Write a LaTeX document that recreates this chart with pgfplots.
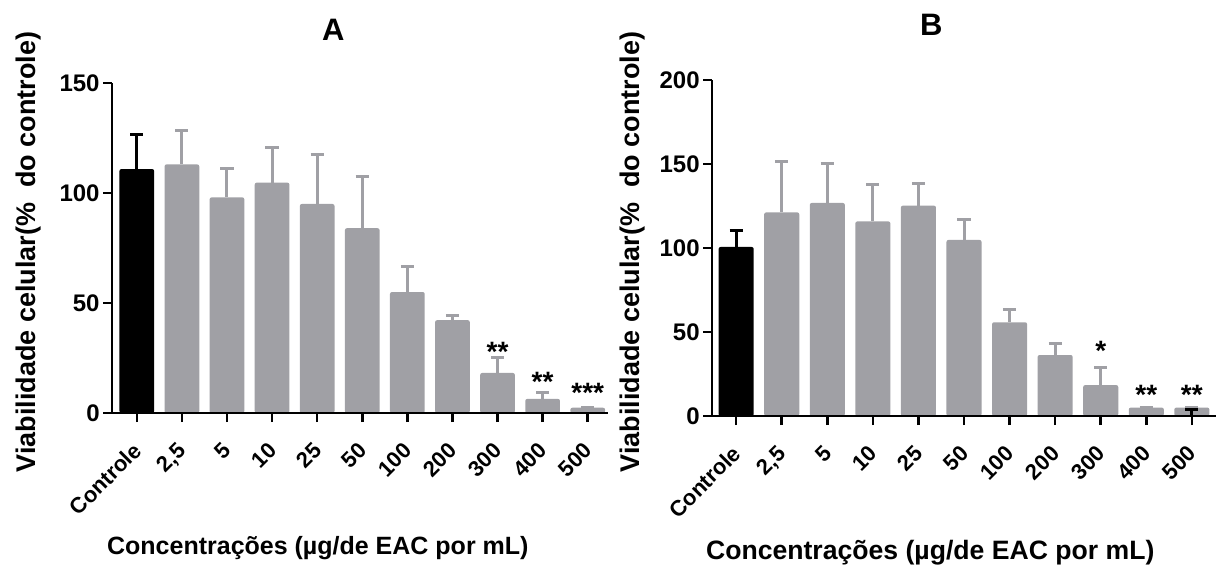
\documentclass[border=0pt]{standalone}
\usepackage{pgfplots}
\pgfplotsset{compat=1.18}
\usepackage{fontspec}
\setmainfont{Liberation Sans}
\definecolor{barg}{RGB}{160,160,165}
\tikzset{astk/.style={font=\fontsize{14}{14}\selectfont\bfseries, anchor=center, inner sep=0pt}}
\begin{document}
\begin{tikzpicture}
\useasboundingbox (0,0) rectangle (609pt,283.5pt);
\pgfplotsset{
  panel/.style={
    scale only axis,
    axis on top,
    axis lines*=left,
    axis line style={-, line width=1.3pt, black},
    tick align=outside,
    major tick length=4.5pt,
    xtick={0,...,10},
    xticklabels={Controle,{2,5},5,10,25,50,100,200,300,400,500},
    xtick style={line width=1.3pt, black},
    ytick style={line width=1.3pt, black},
    /pgf/number format/assume math mode=true,
    yticklabel style={font=\fontsize{12}{12}\selectfont\bfseries, inner sep=1.5pt},
    xticklabel style={font=\fontsize{11}{11}\selectfont\bfseries, xshift=-2.6pt, yshift=-7.9pt, rotate=45, anchor=north east, inner sep=1pt},
    ymin=0,
    title style={font=\fontsize{15.5}{16}\selectfont\bfseries, anchor=center},
    xlabel style={font=\fontsize{12.5}{13}\selectfont\bfseries, anchor=center},
    ylabel style={font=\fontsize{13.5}{14}\selectfont\bfseries, anchor=center, rotate=0},
  },
  gbar/.style={ybar, bar shift=0pt, bar width=0.77, fill=barg, draw=none, rounded corners=1pt,
    error bars/.cd, y dir=plus, y explicit,
    error bar style={line width=1.5pt, barg},
    error mark options={rotate=90, line width=1.5pt, barg, mark size=3.3pt}},
  kbar/.style={ybar, bar shift=0pt, bar width=0.77, fill=black, draw=none, rounded corners=1pt,
    error bars/.cd, y dir=plus, y explicit,
    error bar style={line width=1.5pt, black},
    error mark options={rotate=90, line width=1.5pt, black, mark size=3.3pt}},
}
% ---------------- Panel A ----------------
\begin{axis}[panel,
  at={(56pt,77pt)}, anchor=south west,
  width=248pt, height=165pt,
  xmin=-0.55, xmax=10.45, ymax=150,
  ytick={0,50,100,150},
  title={A}, title style={at={(axis description cs:0.446,1.124)}},
  xlabel={Concentrações (µg/de EAC por mL)},
  xlabel style={at={(axis description cs:0.415,-0.41)}},
  ylabel={Viabilidade celular(\%\ \ do controle)},
  ylabel style={at={(axis description cs:-0.168,0.488)}},
]
\addplot[kbar] coordinates {(0,110.9) +- (0,15.9)};
\addplot[gbar] coordinates {
  (1,113.0) +- (0,15.5)
  (2,98.0) +- (0,13.2)
  (3,104.7) +- (0,16.2)
  (4,95.0) +- (0,22.7)
  (5,84.0) +- (0,23.5)
  (6,55.0) +- (0,11.4)
  (7,42.2) +- (0,2.2)
  (8,18.2) +- (0,6.9)
  (9,6.4) +- (0,3.1)
  (10,2.4) +- (0,0)
};
\node[astk] at (axis cs:8,28) {**};
\node[astk] at (axis cs:9,14) {**};
\node[astk] at (axis cs:10,9) {***};
\end{axis}
% ---------------- Panel B ----------------
\begin{axis}[panel,
  at={(356pt,75.5pt)}, anchor=south west,
  width=252pt, height=168pt,
  xmin=-0.53, xmax=10.53, ymax=200,
  ytick={0,50,100,150,200},
  title={B}, title style={at={(axis description cs:0.435,1.128)}},
  xlabel={Concentrações (µg/de EAC por mL)},
  xlabel style={at={(axis description cs:0.433,-0.408)}, font=\fontsize{13.3}{14}\selectfont\bfseries},
  ylabel={Viabilidade celular(\%\ \ do controle)},
  ylabel style={at={(axis description cs:-0.158,0.488)}},
]
\addplot[kbar] coordinates {(0,100.6) +- (0,9.7)};
\addplot[gbar] coordinates {
  (1,121.2) +- (0,30.2)
  (2,126.8) +- (0,23.2)
  (3,115.8) +- (0,22.0)
  (4,125.2) +- (0,13.3)
  (5,104.8) +- (0,12.4)
  (6,55.8) +- (0,7.8)
  (7,36.3) +- (0,7.0)
  (8,18.4) +- (0,10.4)
  (9,5.0) +- (0,0)
  (10,5.0) +- (0,0)
};
\addplot[draw=none, mark=none, forget plot,
  error bars/.cd, y dir=plus, y explicit,
  error bar style={line width=1.5pt, black},
  error mark options={rotate=90, line width=1.5pt, black, mark size=3.3pt}]
  coordinates {(10,0.5) +- (0,3.5)};
\node[astk] at (axis cs:8,38.5) {*};
\node[astk] at (axis cs:9,12.5) {**};
\node[astk] at (axis cs:10,12.5) {**};
\end{axis}
\end{tikzpicture}
\end{document}
